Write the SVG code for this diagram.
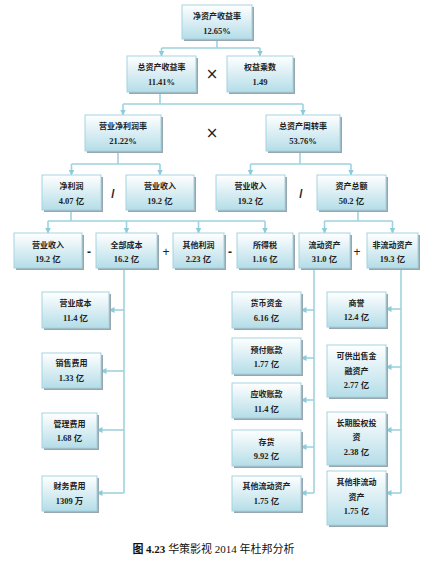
<svg xmlns="http://www.w3.org/2000/svg" width="433" height="563" viewBox="0 0 433 563">
<style>
.sh{fill:#9aa6ad}
.bx{fill:url(#g);stroke:#a3d3df;stroke-width:1}
.lb{font-family:"Noto Sans CJK SC","Liberation Serif",sans-serif;font-size:8px;font-weight:bold;fill:#222;text-anchor:middle}
.vl{font-family:"Liberation Serif","Noto Sans CJK SC",serif;font-size:8.5px;font-weight:bold;fill:#222;text-anchor:middle}
.op{font-family:"Liberation Sans","DejaVu Sans",sans-serif;font-size:12px;fill:#222;text-anchor:middle}
.x{font-family:"DejaVu Sans",sans-serif;font-size:15px;fill:#222;text-anchor:middle}
.ln{fill:none;stroke:#9fd2de;stroke-width:1.6}
.ar{fill:none;stroke:#9fd2de;stroke-width:1.6;marker-end:url(#ah)}
.cap{font-family:"Liberation Serif","Noto Sans CJK SC",serif;font-size:11px;fill:#111}
</style>
<defs>
<linearGradient id="g" x1="0" y1="0" x2="0" y2="1">
<stop offset="0" stop-color="#ffffff"/>
<stop offset="1" stop-color="#b5dde8"/>
</linearGradient>
<marker id="ah" markerUnits="userSpaceOnUse" markerWidth="6" markerHeight="6" refX="5.5" refY="3" orient="auto">
<path d="M0,0 L6,3 L0,6 z" fill="#8ccbd9"/>
</marker>
</defs>
<rect width="433" height="563" fill="#ffffff"/>

<g id="connectors">
<path class="ln" d="M217 39 V48 M161.5 48 H260"/>
<path class="ar" d="M161.5 48 V56"/>
<path class="ar" d="M260 48 V56"/>
<path class="ln" d="M160 92 V104 M123 104 H303"/>
<path class="ar" d="M123 104 V115"/>
<path class="ar" d="M303 104 V115"/>
<path class="ln" d="M118 151 V164 M71.5 164 H160"/>
<path class="ar" d="M71.5 164 V175"/>
<path class="ar" d="M160 164 V175"/>
<path class="ln" d="M300 151 V164 M250.5 164 H351"/>
<path class="ar" d="M250.5 164 V175"/>
<path class="ar" d="M351 164 V175"/>
<path class="ln" d="M71 210 V221 M48 221 H265"/>
<path class="ar" d="M48 221 V233"/>
<path class="ar" d="M126.5 221 V233"/>
<path class="ar" d="M198.5 221 V233"/>
<path class="ar" d="M265 221 V233"/>
<path class="ln" d="M358 210 V221 M324.5 221 H392.5"/>
<path class="ar" d="M324.5 221 V233"/>
<path class="ar" d="M392.5 221 V233"/>
<path class="ln" d="M124 268 V493"/>
<path class="ar" d="M124 310 H109"/>
<path class="ar" d="M124 371 H101"/>
<path class="ar" d="M124 430 H97"/>
<path class="ar" d="M124 493 H97"/>
<path class="ln" d="M314 268 V493"/>
<path class="ar" d="M314 310 H301"/>
<path class="ar" d="M314 358 H301"/>
<path class="ar" d="M314 400 H301"/>
<path class="ar" d="M314 447 H301"/>
<path class="ar" d="M314 493 H301"/>
<path class="ln" d="M401 268 V493"/>
<path class="ar" d="M401 309 H386"/>
<path class="ar" d="M401 367 H386"/>
<path class="ar" d="M401 430 H386"/>
<path class="ar" d="M401 493 H386"/>
</g>

<g id="n-roe"><rect class="sh" x="184" y="7" width="70" height="34"/><rect class="bx" x="182" y="5" width="70" height="34"/><text class="lb" x="217" y="19">净资产收益率</text><text class="vl" x="217" y="34">12.65%</text></g>
<g id="n-roa"><rect class="sh" x="129" y="58" width="69" height="36"/><rect class="bx" x="127" y="56" width="69" height="36"/><text class="lb" x="161.5" y="70">总资产收益率</text><text class="vl" x="161.5" y="85">11.41%</text></g>
<g id="n-em"><rect class="sh" x="229" y="58" width="66" height="36"/><rect class="bx" x="227" y="56" width="66" height="36"/><text class="lb" x="260" y="70">权益乘数</text><text class="vl" x="260" y="85">1.49</text></g>
<g id="n-npm"><rect class="sh" x="87" y="117" width="76" height="36"/><rect class="bx" x="85" y="115" width="76" height="36"/><text class="lb" x="123" y="129">营业净利润率</text><text class="vl" x="123" y="144">21.22%</text></g>
<g id="n-tat"><rect class="sh" x="268" y="117" width="74" height="36"/><rect class="bx" x="266" y="115" width="74" height="36"/><text class="lb" x="303" y="129">总资产周转率</text><text class="vl" x="303" y="144">53.76%</text></g>
<g id="n-np"><rect class="sh" x="44" y="177" width="59" height="35"/><rect class="bx" x="42" y="175" width="59" height="35"/><text class="lb" x="71.5" y="189">净利润</text><text class="vl" x="71.5" y="204">4.07 亿</text></g>
<g id="n-rev1"><rect class="sh" x="128" y="177" width="68" height="35"/><rect class="bx" x="126" y="175" width="68" height="35"/><text class="lb" x="160" y="189">营业收入</text><text class="vl" x="160" y="204">19.2 亿</text></g>
<g id="n-rev2"><rect class="sh" x="218" y="177" width="69" height="35"/><rect class="bx" x="216" y="175" width="69" height="35"/><text class="lb" x="250.5" y="189">营业收入</text><text class="vl" x="250.5" y="204">19.2 亿</text></g>
<g id="n-ta"><rect class="sh" x="319" y="177" width="69" height="35"/><rect class="bx" x="317" y="175" width="69" height="35"/><text class="lb" x="351.5" y="189">资产总额</text><text class="vl" x="351.5" y="204">50.2 亿</text></g>
<g id="n-rev3"><rect class="sh" x="16" y="235" width="68" height="35"/><rect class="bx" x="14" y="233" width="68" height="35"/><text class="lb" x="48" y="248">营业收入</text><text class="vl" x="48" y="262">19.2 亿</text></g>
<g id="n-tc"><rect class="sh" x="98" y="235" width="61" height="35"/><rect class="bx" x="96" y="233" width="61" height="35"/><text class="lb" x="126.5" y="248">全部成本</text><text class="vl" x="126.5" y="262">16.2 亿</text></g>
<g id="n-op"><rect class="sh" x="175" y="235" width="51" height="35"/><rect class="bx" x="173" y="233" width="51" height="35"/><text class="lb" x="198.5" y="248">其他利润</text><text class="vl" x="198.5" y="262">2.23 亿</text></g>
<g id="n-tax"><rect class="sh" x="239" y="235" width="56" height="35"/><rect class="bx" x="237" y="233" width="56" height="35"/><text class="lb" x="265" y="248">所得税</text><text class="vl" x="265" y="262">1.16 亿</text></g>
<g id="n-ca"><rect class="sh" x="301" y="235" width="51" height="35"/><rect class="bx" x="299" y="233" width="51" height="35"/><text class="lb" x="324.5" y="248">流动资产</text><text class="vl" x="324.5" y="262">31.0 亿</text></g>
<g id="n-nca"><rect class="sh" x="369" y="235" width="51" height="35"/><rect class="bx" x="367" y="233" width="51" height="35"/><text class="lb" x="392.5" y="248">非流动资产</text><text class="vl" x="392.5" y="262">19.3 亿</text></g>

<g id="n-cogs"><rect class="sh" x="44" y="294" width="67" height="36"/><rect class="bx" x="42" y="292" width="67" height="36"/><text class="lb" x="75.5" y="306">营业成本</text><text class="vl" x="75.5" y="321">11.4 亿</text></g>
<g id="n-sell"><rect class="sh" x="44" y="355" width="59" height="35"/><rect class="bx" x="42" y="353" width="59" height="35"/><text class="lb" x="71.5" y="366">销售费用</text><text class="vl" x="71.5" y="381">1.33 亿</text></g>
<g id="n-adm"><rect class="sh" x="44" y="415" width="55" height="35"/><rect class="bx" x="42" y="413" width="55" height="35"/><text class="lb" x="69.5" y="427">管理费用</text><text class="vl" x="69.5" y="441">1.68 亿</text></g>
<g id="n-fin"><rect class="sh" x="44" y="478" width="55" height="35"/><rect class="bx" x="42" y="476" width="55" height="35"/><text class="lb" x="69.5" y="489">财务费用</text><text class="vl" x="69.5" y="504">1309 万</text></g>

<g id="n-cash"><rect class="sh" x="234" y="294" width="69" height="36"/><rect class="bx" x="232" y="292" width="69" height="36"/><text class="lb" x="266.5" y="306">货币资金</text><text class="vl" x="266.5" y="321">6.16 亿</text></g>
<g id="n-prep"><rect class="sh" x="234" y="340" width="69" height="36"/><rect class="bx" x="232" y="338" width="69" height="36"/><text class="lb" x="266.5" y="353">预付账款</text><text class="vl" x="266.5" y="367">1.77 亿</text></g>
<g id="n-ar"><rect class="sh" x="234" y="385" width="69" height="35"/><rect class="bx" x="232" y="383" width="69" height="35"/><text class="lb" x="266.5" y="397">应收账款</text><text class="vl" x="266.5" y="412">11.4 亿</text></g>
<g id="n-inv"><rect class="sh" x="234" y="432" width="69" height="36"/><rect class="bx" x="232" y="430" width="69" height="36"/><text class="lb" x="266.5" y="445">存货</text><text class="vl" x="266.5" y="459">9.92 亿</text></g>
<g id="n-oca"><rect class="sh" x="234" y="478" width="69" height="35"/><rect class="bx" x="232" y="476" width="69" height="35"/><text class="lb" x="266.5" y="489">其他流动资产</text><text class="vl" x="266.5" y="504">1.75 亿</text></g>

<g id="n-gw"><rect class="sh" x="329" y="294" width="59" height="35"/><rect class="bx" x="327" y="292" width="59" height="35"/><text class="lb" x="356.5" y="306">商誉</text><text class="vl" x="356.5" y="320">12.4 亿</text></g>
<g id="n-afs"><rect class="sh" x="329" y="347" width="59" height="52"/><rect class="bx" x="327" y="345" width="59" height="52"/><text class="lb" x="356.5" y="359">可供出售金</text><text class="lb" x="356.5" y="374">融资产</text><text class="vl" x="356.5" y="388">2.77 亿</text></g>
<g id="n-lte"><rect class="sh" x="329" y="414" width="59" height="53"/><rect class="bx" x="327" y="412" width="59" height="53"/><text class="lb" x="356.5" y="426">长期股权投</text><text class="lb" x="356.5" y="440">资</text><text class="vl" x="356.5" y="455">2.38 亿</text></g>
<g id="n-onca"><rect class="sh" x="329" y="473" width="59" height="54"/><rect class="bx" x="327" y="471" width="59" height="54"/><text class="lb" x="356.5" y="485">其他非流动</text><text class="lb" x="356.5" y="500">资产</text><text class="vl" x="356.5" y="514">1.75 亿</text></g>

<g id="operators">
<text class="x" x="212" y="79">×</text>
<text class="x" x="212" y="138">×</text>
<text class="op" x="113" y="198" font-weight="bold">/</text>
<text class="op" x="301" y="198" font-weight="bold">/</text>
<text class="op" x="89" y="256" font-weight="bold">-</text>
<text class="op" x="166" y="256">+</text>
<text class="op" x="230" y="256" font-weight="bold">-</text>
<text class="op" x="357" y="256">+</text>
</g>

<text class="cap" x="213.5" y="553" text-anchor="middle"><tspan font-weight="bold">图 4.23</tspan>  华策影视 2014 年杜邦分析</text>
</svg>
